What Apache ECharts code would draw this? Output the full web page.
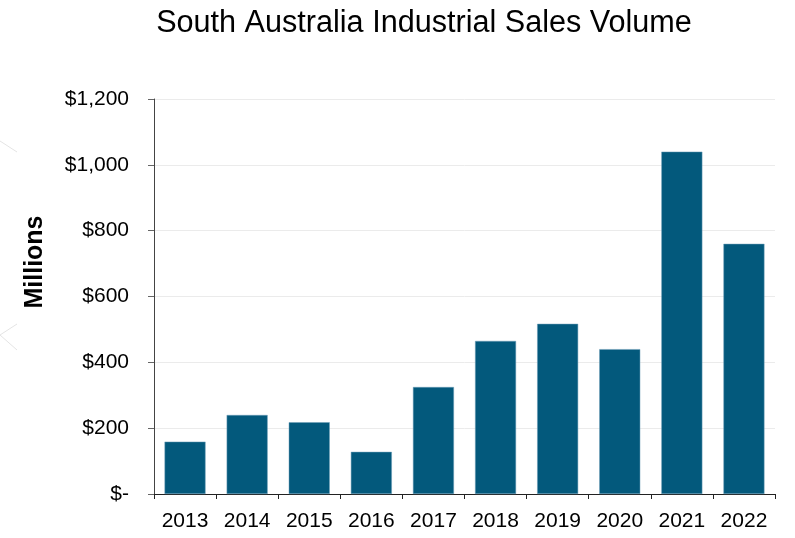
<!DOCTYPE html>
<html>
<head>
<meta charset="utf-8">
<script src="https://cdn.jsdelivr.net/npm/echarts@6/dist/echarts.min.js"></script>
<style>html,body{margin:0;padding:0;background:#fff;}#c{width:795px;height:538px;}</style>
</head>
<body>
<div id="c"></div>
<script>
const categories = ['2013','2014','2015','2016','2017','2018','2019','2020','2021','2022'];
const salesVolume = [159, 240, 218, 128, 325, 465, 517, 440, 1040, 760];
const yTicks = [0, 200, 400, 600, 800, 1000, 1200];

const chart = echarts.init(document.getElementById('c'), null, {renderer: 'canvas'});
chart.setOption({
  animation: false,
  backgroundColor: '#fff',
  title: {
    text: 'South Australia Industrial Sales Volume',
    left: 419, top: 3, textAlign: 'center',
    textStyle: {fontFamily: 'Liberation Sans, Arial, sans-serif', fontSize: 30.6, fontWeight: 'normal', color: '#000'}
  },
  graphic: [
    {type: 'polyline', shape: {points: [[0,141],[17,152]]}, style: {stroke: '#e4e4e4', lineWidth: 1, fill: null}},
    {type: 'polyline', shape: {points: [[17,324],[0,335],[17,350]]}, style: {stroke: '#e4e4e4', lineWidth: 1, fill: null}},
    {type: 'text', x: 35, y: 262, rotation: Math.PI / 2,
     style: {text: 'Millions', fontFamily: 'Liberation Sans, Arial, sans-serif', fontSize: 25, fontWeight: 'bold', fill: '#000', align: 'center', verticalAlign: 'middle'}}
  ],
  grid: {left: 154, right: 20, top: 99, bottom: 44, containLabel: false},
  xAxis: {
    type: 'category',
    data: categories,
    axisLine: {lineStyle: {color: '#222', width: 1}},
    axisTick: {show: true, alignWithLabel: false, length: 5, lineStyle: {color: '#222'}},
    axisLabel: {fontFamily: 'Liberation Sans, Arial, sans-serif', fontSize: 21, color: '#000', margin: 17}
  },
  yAxis: {
    type: 'value',
    min: yTicks[0], max: yTicks[yTicks.length - 1], interval: 200,
    axisLine: {show: true, lineStyle: {color: '#444', width: 1}},
    axisTick: {show: true, inside: false, length: 6, lineStyle: {color: '#666'}},
    splitLine: {show: true, lineStyle: {color: '#ebebeb', width: 1}},
    axisLabel: {
      fontFamily: 'Liberation Sans, Arial, sans-serif', fontSize: 21, color: '#000', margin: 25,
      formatter: function (v) { return v === 0 ? '$-' : '$' + v.toLocaleString('en-US'); }
    }
  },
  series: [{
    type: 'bar',
    data: salesVolume,
    barCategoryGap: '34%',
    itemStyle: {color: '#03597C', borderColor: '#6f9fb8', borderWidth: 0.5}
  }]
});
</script>
</body>
</html>
